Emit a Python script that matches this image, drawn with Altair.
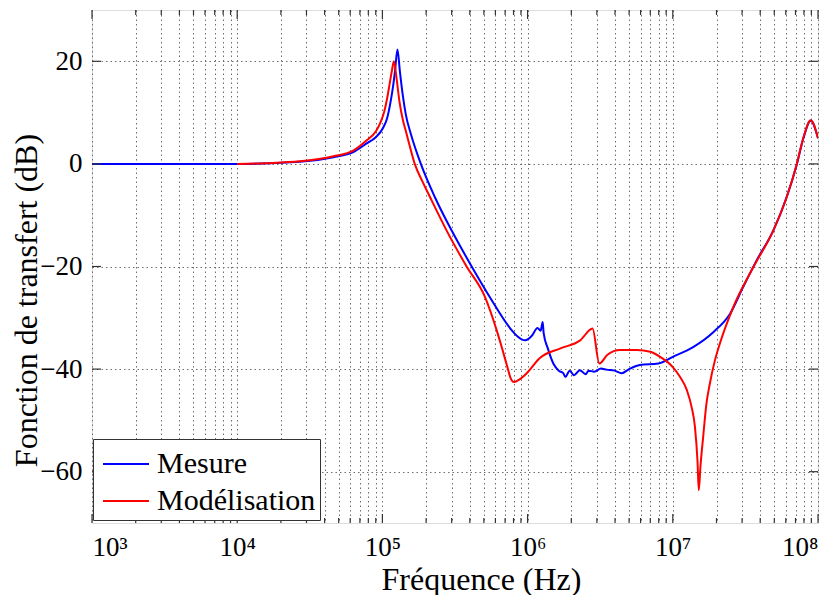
import altair as alt
import pandas as pd

# ---- data ----
mesure_freq = [1e3, 2e3, 5e3, 1e4, 2.7e4, 4.6e4, 6.3e4, 7.8e4, 9.0e4, 1.01e5, 1.08e5, 1.13e5,
               1.18e5, 1.22e5, 1.27e5, 1.32e5, 1.38e5, 1.45e5, 1.58e5, 1.84e5, 2.3e5,
               3.0e5, 4.12e5, 5.5e5, 7.76e5, 8.5e5, 9.6e5, 1.07e6, 1.17e6,
               1.23e6, 1.27e6, 1.29e6, 1.38e6, 1.51e6, 1.64e6, 1.76e6, 1.82e6, 1.95e6,
               2.09e6, 2.29e6, 2.51e6, 2.63e6, 2.88e6, 3.2e6, 3.5e6, 3.98e6, 4.45e6,
               5.0e6, 5.94e6, 7.94e6, 1.0e7, 1.38e7, 1.9e7, 2.48e7, 3.05e7, 3.78e7,
               4.92e7, 6.08e7, 7.13e7, 7.93e7, 8.91e7, 1e8]
mesure_db = [0, 0, 0, 0, 0.4, 1.3, 2.3, 4.0, 5.2, 7.0, 9.0, 11.6,
             14.8, 18, 22.3, 18, 13.5, 9.6, 5.6, 0, -6.5,
             -13, -20, -26, -32.4, -33.6, -34.4, -33.5, -32,
             -32.5, -30.8, -33, -36, -39, -40.3, -40.8, -41.5, -40.3,
             -41.2, -40.2, -41, -40.3, -40.5, -39.9, -40.1, -40.3, -40.8,
             -40.0, -39.2, -38.9, -37.6, -35.7, -32.8, -29.2, -24, -18.8,
             -13, -6.5, -0.2, 5, 8.4, 5]

modele_freq = [1e4, 1.58e4, 2.7e4, 4.6e4, 6.3e4, 7.8e4, 9.0e4, 9.6e4, 1.03e5, 1.08e5,
               1.12e5, 1.16e5, 1.2e5, 1.25e5, 1.31e5, 1.39e5, 1.45e5, 1.5e5, 1.67e5,
               1.9e5, 2.13e5, 2.77e5, 3.8e5, 5.1e5, 6.12e5, 6.6e5, 7.24e5, 7.6e5, 8.05e5,
               8.8e5, 9.86e5, 1.22e6, 1.67e6, 2.3e6, 2.8e6, 3.12e6, 3.55e6, 4.33e6, 5.64e6,
               7.0e6, 8.17e6, 1.0e7, 1.12e7, 1.25e7, 1.35e7, 1.42e7, 1.48e7, 1.51e7, 1.55e7,
               1.62e7, 1.7e7, 1.8e7, 1.95e7, 2.11e7, 2.61e7, 3.59e7, 4.92e7, 6.08e7, 7.13e7,
               7.93e7, 8.91e7, 1e8]
modele_db = [0, 0.15, 0.5, 1.5, 2.6, 4.6, 6.3, 7.8, 10.2, 12.9,
             15.5, 18, 20, 16.8, 12.2, 8.3, 6.4, 4.8, 0,
             -3.6, -6.5, -13, -20, -26, -32.4, -35.5, -39.5, -41.6, -42.5,
             -42.0, -40.8, -37.8, -36, -34.4, -32.1, -38.9, -37.2, -36.3, -36.3,
             -36.6, -37.6, -39.6, -41.5, -44.1, -47.5, -51.2, -58, -63.6, -59,
             -53.1, -47.0, -42.8, -38.3, -35, -27.9, -20.1, -13, -6.5, -0.1,
             5.1, 8.5, 5.0]

series_names = ["Mesure", "Modélisation"]
series_colors = ["#0000ff", "#ff0000"]

x_major = [10 ** e for e in range(3, 9)]
x_minor = [d * 10 ** e for e in range(3, 8) for d in range(2, 10)]
x_all = sorted(x_major + x_minor)
y_ticks = [-60, -40, -20, 0, 20]

W, H = 726, 513
FONT = "Liberation Serif"

df_mes = pd.DataFrame({"f": mesure_freq, "db": mesure_db, "serie": series_names[0]})
df_mod = pd.DataFrame({"f": modele_freq, "db": modele_db, "serie": series_names[1]})

label_expr = ("abs(log(datum.value)/LN10 - round(log(datum.value)/LN10)) < 1e-6 ? "
              "'10' + ['⁰','¹','²','³','⁴','⁵','⁶','⁷','⁸','⁹'][round(log(datum.value)/LN10)] : ''")

x_enc = alt.X("f:Q",
              scale=alt.Scale(type="log", domain=[1e3, 1e8], nice=False),
              axis=alt.Axis(values=x_all, labelExpr=label_expr, grid=True,
                            gridDash=[1.5, 3], gridColor="#6e6e6e", gridWidth=1,
                            ticks=False, domain=False, labelOverlap=False,
                            labelFont=FONT, labelFontSize=27, labelColor="black",
                            labelPadding=11,
                            title="Fréquence (Hz)", titleFont=FONT, titleFontSize=32,
                            titleFontWeight="normal", titleColor="black",
                            titleX=389, titleY=66, titleAlign="center",
                            titleBaseline="alphabetic"))
y_enc = alt.Y("db:Q",
              scale=alt.Scale(domain=[-70, 30], nice=False, zero=False),
              axis=alt.Axis(values=y_ticks, grid=True, gridDash=[1.5, 3],
                            gridColor="#6e6e6e", gridWidth=1, ticks=False, domain=False,
                            labelFont=FONT, labelFontSize=27, labelColor="black",
                            labelPadding=10,
                            title="Fonction de transfert (dB)", titleFont=FONT,
                            titleFontSize=32, titleFontWeight="normal", titleColor="black",
                            titleX=-66, titleY=290, titleAlign="center",
                            titleBaseline="middle", titleAngle=-90))
color_enc = alt.Color("serie:N",
                      scale=alt.Scale(domain=series_names, range=series_colors),
                      legend=alt.Legend(title=None, orient="none", legendX=1, legendY=429,
                                        symbolType="M-1.15,0H1.15", symbolSize=1600,
                                        symbolStrokeWidth=2, symbolOffset=8,
                                        labelFont=FONT,
                                        labelFontSize=30, labelColor="black",
                                        labelLimit=400, labelOffset=10,
                                        padding=4, rowPadding=1,
                                        strokeColor="#333333", fillColor="white"))

line_mes = alt.Chart(df_mes).mark_line(strokeWidth=2, clip=True, interpolate="monotone").encode(
    x=x_enc, y=y_enc, color=color_enc)
line_mod = alt.Chart(df_mod).mark_line(strokeWidth=2, clip=True, interpolate="monotone").encode(
    x=alt.X("f:Q"), y=alt.Y("db:Q"), color=alt.Color("serie:N"))

# inward ticks (MATLAB style) on all four sides
df_xmaj = pd.DataFrame({"f": x_major})
df_xmin = pd.DataFrame({"f": x_minor})
df_y = pd.DataFrame({"db": y_ticks})
tick_style = dict(color="#333333", strokeWidth=1.2)

ticks = [
    alt.Chart(df_xmaj).mark_rule(**tick_style).encode(x="f:Q", y=alt.value(H), y2=alt.value(H - 9)),
    alt.Chart(df_xmaj).mark_rule(**tick_style).encode(x="f:Q", y=alt.value(0), y2=alt.value(9)),
    alt.Chart(df_xmin).mark_rule(**tick_style).encode(x="f:Q", y=alt.value(H), y2=alt.value(H - 5)),
    alt.Chart(df_xmin).mark_rule(**tick_style).encode(x="f:Q", y=alt.value(0), y2=alt.value(5)),
    alt.Chart(df_y).mark_rule(**tick_style).encode(y="db:Q", x=alt.value(0), x2=alt.value(9)),
    alt.Chart(df_y).mark_rule(**tick_style).encode(y="db:Q", x=alt.value(W), x2=alt.value(W - 9)),
]

chart = alt.layer(line_mes, line_mod, *ticks).properties(
    width=W, height=H,
    autosize=alt.AutoSizeParams(type="none"),
    padding={"left": 84, "top": 2, "right": 10, "bottom": 72},
).configure_view(stroke="#333333", strokeWidth=1.5).configure(background="white")

chart.save("out.html", embed_options={"renderer": "svg", "actions": False})
